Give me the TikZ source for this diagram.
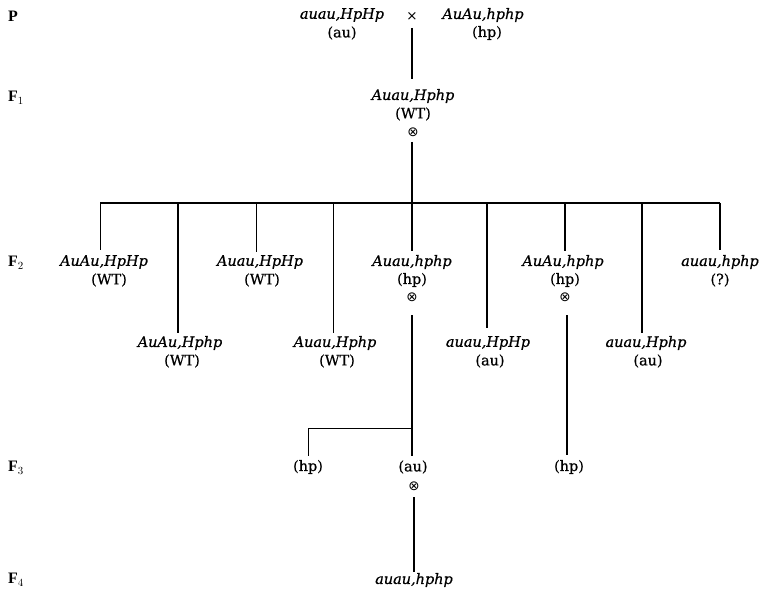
\documentclass[tikz,border=0pt]{standalone}
\usepackage{fontspec}
\setmainfont{DejaVu Serif}[FakeBold=0.6]
\newfontfamily\lblfont{Liberation Serif}
\newfontfamily\symbfont{DejaVu Sans}
\begin{document}
\begin{tikzpicture}[x=1bp,y=-1bp,
  geno/.style={font=\fontsize{14.5}{16}\selectfont\itshape, inner sep=1pt},
  pheno/.style={font=\fontsize{14.5}{16}\selectfont, inner sep=1pt},
  selfx/.style={font=\symbfont\fontsize{13.5}{14}\selectfont, inner sep=1pt},
  gen/.style={font=\lblfont\bfseries\fontsize{16}{18}\selectfont, inner sep=0pt},
  thickln/.style={line width=2.2bp},
  medln/.style={line width=1.5bp},
  thinln/.style={line width=0.9bp}]
\useasboundingbox (0,0) rectangle (764,599);
% generation labels
\node[gen] (lP) at (13,16) {P};
\node[gen] (lF1) at (16,98) {F$_1$};
\node[gen] (lF2) at (16,263) {F$_2$};
\node[gen] (lF3) at (16,468) {F$_3$};
\node[gen] (lF4) at (16,580) {F$_4$};
% P
\node[geno] (pa) at (342,15) {auau,HpHp};
\node[pheno] (pap) at (342,33) {(au)};
\node[selfx] (cross) at (412,16) {×};
\node[geno] (pb) at (483,15) {AuAu,hphp};
\node[pheno] (pbp) at (487,33) {(hp)};
% F1
\node[geno] (f1) at (413,96) {Auau,Hphp};
\node[pheno] (f1p) at (413,114) {(WT)};
\node[selfx] (f1s) at (413,132) {⊗};
\coordinate (cP1) at (412,28);
\coordinate (cP2) at (412,79);
\draw[thickln] (cP1) -- (cP2);
% bar
\coordinate (f1d) at (412,142);
\coordinate (bar) at (412,203);
\coordinate (bL) at (100,203);
\coordinate (bR) at (720,203);
\draw[thickln] (f1d) -- (bar);
\draw[medln] (bL) -- (bR);
% F2
\node[geno] (g1) at (104,262) {AuAu,HpHp};
\node[pheno] (p1) at (109,280) {(WT)};
\node[geno] (g2) at (180,343) {AuAu,Hphp};
\node[pheno] (p2) at (182,361) {(WT)};
\node[geno] (g3) at (260,262) {Auau,HpHp};
\node[pheno] (p3) at (262,280) {(WT)};
\node[geno] (g4) at (335,343) {Auau,Hphp};
\node[pheno] (p4) at (337,361) {(WT)};
\node[geno] (g5) at (412,262) {Auau,hphp};
\node[pheno] (p5) at (412,280) {(hp)};
\node[selfx] (o5) at (412,297) {⊗};
\node[geno] (g6) at (488,343) {auau,HpHp};
\node[pheno] (p6) at (490,361) {(au)};
\node[geno] (g7) at (563,262) {AuAu,hphp};
\node[pheno] (p7) at (565,280) {(hp)};
\node[selfx] (o7) at (565,297) {⊗};
\node[geno] (g8) at (646,343) {auau,Hphp};
\node[pheno] (p8) at (648,361) {(au)};
\node[geno] (g9) at (720,262) {auau,hphp};
\node[pheno] (p9) at (720,280) {(?)};
\coordinate (d1) at (100,203); \coordinate (e1) at (100,250);
\coordinate (d2) at (178,203); \coordinate (e2) at (178,333);
\coordinate (d3) at (256,203); \coordinate (e3) at (256,252);
\coordinate (d4) at (333,203); \coordinate (e4) at (333,333);
\coordinate (d5) at (412,203); \coordinate (e5) at (412,251);
\coordinate (d6) at (487,203); \coordinate (e6) at (487,328);
\coordinate (d7) at (565,203); \coordinate (e7) at (565,251);
\coordinate (d8) at (642,203); \coordinate (e8) at (642,333);
\coordinate (d9) at (720,203); \coordinate (e9) at (720,250);
\draw[thinln] (d1) -- (e1);
\draw[thickln] (d2) -- (e2);
\draw[thinln] (d3) -- (e3);
\draw[thinln] (d4) -- (e4);
\draw[medln] (d5) -- (e5);
\draw[medln] (d6) -- (e6);
\draw[medln] (d7) -- (e7);
\draw[medln] (d8) -- (e8);
\draw[medln] (d9) -- (e9);
% F3
\node[pheno] (h1) at (308,467) {(hp)};
\node[pheno] (a1) at (413,467) {(au)};
\node[selfx] (o3) at (414,486) {⊗};
\node[pheno] (h2) at (569,467) {(hp)};
\coordinate (t5) at (412,315);
\coordinate (j5) at (412,428);
\coordinate (k5) at (308,428);
\coordinate (a1t) at (412,456);
\coordinate (h1t) at (308,456);
\draw[thickln] (t5) -- (a1t);
\draw[thinln] (j5) -- (k5) -- (h1t);
\coordinate (t7) at (567,315);
\coordinate (h2t) at (567,455);
\draw[medln] (t7) -- (h2t);
% F4
\node[geno] (f4) at (414,580) {auau,hphp};
\coordinate (t3) at (414,497);
\coordinate (f4t) at (414,572);
\draw[thickln] (t3) -- (f4t);
\end{tikzpicture}
\end{document}
